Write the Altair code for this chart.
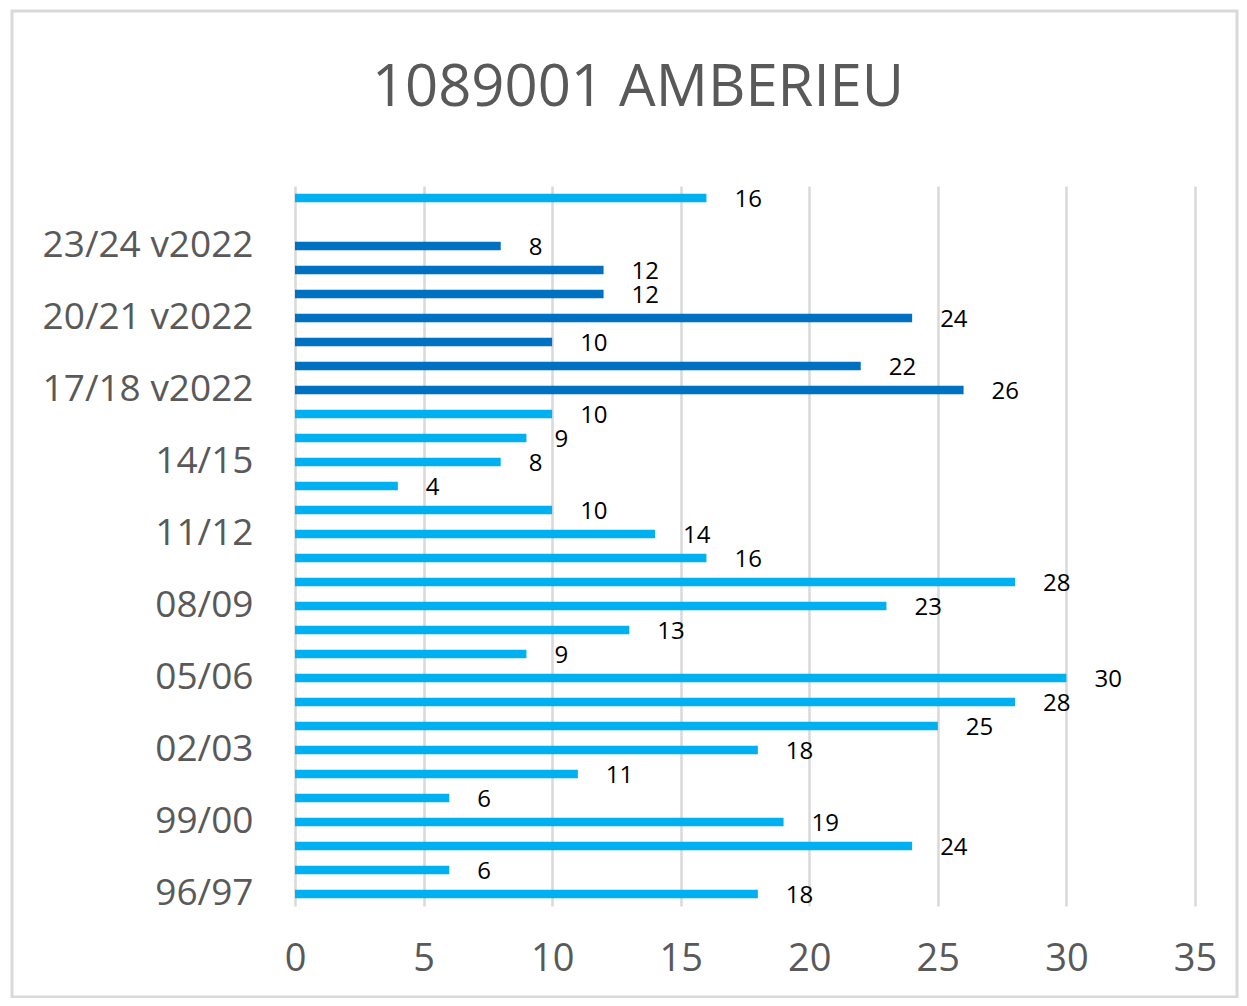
import altair as alt
import pandas as pd

categories = ["96/97", "97/98", "98/99", "99/00", "00/01", "01/02", "02/03", "03/04",
              "04/05", "05/06", "06/07", "07/08", "08/09", "09/10", "10/11", "11/12",
              "12/13", "13/14", "14/15", "15/16", "16/17", "17/18 v2022", "18/19 v2022",
              "19/20 v2022", "20/21 v2022", "21/22 v2022", "22/23 v2022", "23/24 v2022",
              "24/25 v2022", "Moyenne"]
values = [18, 6, 24, 19, 6, 11, 18, 25, 28, 30, 9, 13, 23, 28, 16, 14, 10, 4, 8, 9, 10,
          26, 22, 10, 24, 12, 12, 8, None, 16]
series = ["ancien"] * 21 + ["v2022"] * 8 + ["ancien"]
shown_labels = ["96/97", "99/00", "02/03", "05/06", "08/09", "11/12", "14/15",
                "17/18 v2022", "20/21 v2022", "23/24 v2022"]
x_ticks = [0, 5, 10, 15, 20, 25, 30, 35]

df = pd.DataFrame({"cat": categories, "val": values, "serie": series}).dropna()

FONT = "Open Sans"
GRAY = "#595959"

y_enc = alt.Y("cat:N", sort=None,
              scale=alt.Scale(domain=categories[::-1], paddingInner=0.64, paddingOuter=0.32),
              axis=alt.Axis(title=None, values=shown_labels, labelFontSize=37, labelFont=FONT,
                            labelColor=GRAY, ticks=False, domain=False, labelPadding=42,
                            labelLimit=0, grid=False))
x_enc = alt.X("val:Q", scale=alt.Scale(domain=[0, 35], nice=False),
              axis=alt.Axis(title=None, values=x_ticks, labelFontSize=38, labelFont=FONT,
                            labelColor=GRAY, ticks=False, domain=False, labelPadding=34,
                            labelFlush=False, grid=True, gridColor="#D9D9D9", gridWidth=2.5))

bars = alt.Chart(df).mark_bar().encode(
    x=x_enc, y=y_enc,
    color=alt.Color("serie:N", scale=alt.Scale(domain=["ancien", "v2022"],
                                                range=["#00B0F0", "#0070C0"]), legend=None),
)
labels = alt.Chart(df).mark_text(align="left", baseline="middle", dx=28, dy=2, fontSize=24,
                                  font=FONT, color="#000000").encode(
    x="val:Q", y=alt.Y("cat:N", sort=None), text="val:Q")

frame = alt.Chart(pd.DataFrame({"a": [0]})).mark_rect(
    fill=None, stroke="#D9D9D9", strokeWidth=3, clip=False).encode(
    x=alt.value(-283), x2=alt.value(942), y=alt.value(-175), y2=alt.value(811))

chart = alt.layer(frame, bars, labels).properties(
    width=900, height=720,
    padding={"left": 287, "top": 178, "right": 44, "bottom": 92},
    autosize=alt.AutoSizeParams(type="none"),
    title=alt.TitleParams("1089001 AMBERIEU", fontSize=58, font=FONT, color=GRAY,
                          fontWeight="normal", frame="group", anchor="middle", dx=-107,
                          baseline="alphabetic", offset=-154),
).configure_view(stroke=None)

chart.save("out.html", embed_options={"renderer": "svg", "actions": False})
